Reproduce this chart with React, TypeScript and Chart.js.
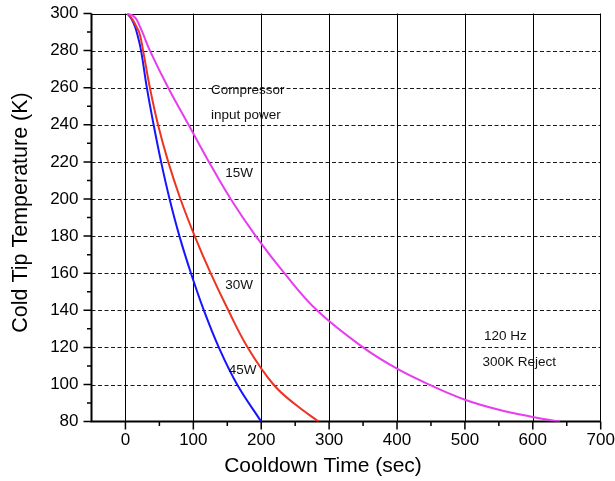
import React, { useEffect, useRef } from "react";
import { Chart, registerables } from "chart.js";

Chart.register(...registerables);

// ---- data ----
const TIME_45W = [3, 9, 14, 18, 23, 31.5, 41.5, 52.5, 65, 79.5, 96.5, 115.5, 137.5, 164.5, 200];
const TEMP_45W = [300, 297, 293, 288, 280, 260, 240, 220, 200, 180, 160, 140, 120, 100, 80];

const TIME_30W = [3, 10, 16, 21, 26, 36, 48, 63, 81, 102, 125.5, 151.5, 180, 218, 250, 284.5];
const TEMP_30W = [300, 297, 293, 289, 280, 260, 240, 220, 200, 180, 160, 140, 120, 100, 89.3, 80];

const TIME_15W = [3, 9, 15, 20, 26, 36, 63, 93, 123, 155, 192, 234, 282, 350, 400, 450, 500, 550, 600, 640];
const TEMP_15W = [300, 299.3, 297.5, 294, 289, 280, 260, 240, 220, 200, 180, 160, 140, 120, 108.5, 99.5, 91.8, 86.4, 82.5, 80];

const X_TICKS = [0, 100, 200, 300, 400, 500, 600, 700];
const X_MINOR = [50, 150, 250, 350, 450, 550, 650];
const Y_TICKS = [80, 100, 120, 140, 160, 180, 200, 220, 240, 260, 280, 300];
const Y_MINOR = [90, 110, 130, 150, 170, 190, 210, 230, 250, 270, 290];
const X_GRID = [0, 100, 200, 300, 400, 500, 600];
const Y_GRID = [100, 120, 140, 160, 180, 200, 220, 240, 260, 280];

const X_MIN = -50;
const X_MAX = 700;
const Y_MIN = 80;
const Y_MAX = 300;

const X_TITLE = "Cooldown Time (sec)";
const Y_TITLE = "Cold Tip Temperature (K)";

const NOTE_TEXT = ["Compressor", "input power", "15W", "30W", "45W", "120 Hz", "300K Reject"];
const NOTE_X = [126, 126, 147, 147, 152, 528, 526];
const NOTE_Y = [258.8, 245.3, 214, 153.6, 107.5, 126, 112];

const FONT = "'Liberation Sans', Arial, sans-serif";

const toPts = (xs: number[], ys: number[]) => xs.map((x, i) => ({ x, y: ys[i] }));

const framePlugin = {
  id: "frame",
  beforeDatasetsDraw(chart: any) {
    const { ctx, chartArea: a, scales } = chart;
    const xs = scales.x;
    const ys = scales.y;
    ctx.save();
    // horizontal dashed grid
    ctx.strokeStyle = "#1a1a1a";
    ctx.lineWidth = 1;
    ctx.setLineDash([4, 2.5]);
    for (const v of Y_GRID) {
      const y = Math.round(ys.getPixelForValue(v)) + 0.5;
      ctx.beginPath();
      ctx.moveTo(a.left, y);
      ctx.lineTo(a.right, y);
      ctx.stroke();
    }
    ctx.setLineDash([]);
    // vertical solid grid
    ctx.strokeStyle = "#000";
    for (const v of X_GRID) {
      const x = Math.round(xs.getPixelForValue(v)) + 0.5;
      ctx.beginPath();
      ctx.moveTo(x, a.top);
      ctx.lineTo(x, a.bottom);
      ctx.stroke();
    }
    // top and right frame
    ctx.beginPath();
    ctx.moveTo(a.left, Math.round(a.top) + 0.5);
    ctx.lineTo(a.right, Math.round(a.top) + 0.5);
    ctx.moveTo(Math.round(a.right) - 0.5, a.top);
    ctx.lineTo(Math.round(a.right) - 0.5, a.bottom);
    ctx.stroke();
    // left/bottom axes
    ctx.lineWidth = 2;
    ctx.beginPath();
    ctx.moveTo(a.left, a.top);
    ctx.lineTo(a.left, a.bottom);
    ctx.lineTo(a.right, a.bottom);
    ctx.stroke();
    // ticks
    ctx.lineWidth = 1.5;
    ctx.beginPath();
    for (const v of Y_TICKS) {
      const y = ys.getPixelForValue(v);
      ctx.moveTo(a.left - 8, y);
      ctx.lineTo(a.left, y);
    }
    for (const v of Y_MINOR) {
      const y = ys.getPixelForValue(v);
      ctx.moveTo(a.left - 4.5, y);
      ctx.lineTo(a.left, y);
    }
    for (const v of X_TICKS) {
      const x = xs.getPixelForValue(v);
      ctx.moveTo(x, a.bottom);
      ctx.lineTo(x, a.bottom + 8);
    }
    for (const v of X_MINOR) {
      const x = xs.getPixelForValue(v);
      ctx.moveTo(x, a.bottom);
      ctx.lineTo(x, a.bottom + 4.5);
    }
    ctx.stroke();
    ctx.restore();
  },
  afterDatasetsDraw(chart: any) {
    const { ctx, scales } = chart;
    ctx.save();
    ctx.fillStyle = "#111";
    ctx.font = `13.5px ${FONT}`;
    ctx.textAlign = "left";
    ctx.textBaseline = "middle";
    NOTE_TEXT.forEach((t, i) => {
      ctx.fillText(t, scales.x.getPixelForValue(NOTE_X[i]), scales.y.getPixelForValue(NOTE_Y[i]));
    });
    // axis titles
    ctx.fillStyle = "#000";
    ctx.textAlign = "center";
    ctx.font = `21px ${FONT}`;
    ctx.fillText(X_TITLE, 323, 466);
    ctx.translate(21, 212.5);
    ctx.rotate(-Math.PI / 2);
    ctx.font = `21.5px ${FONT}`;
    ctx.fillText(Y_TITLE, 0, 0);
    ctx.restore();
  },
};

export default function App() {
  const ref = useRef<HTMLCanvasElement | null>(null);
  useEffect(() => {
    if (!ref.current) return;
    Chart.defaults.font.family = FONT;
    Chart.defaults.color = "#000";
    const chart = new Chart(ref.current, {
      type: "line",
      data: {
        datasets: [
          { label: "15W", data: toPts(TIME_15W, TEMP_15W), borderColor: "#e83cf0" },
          { label: "30W", data: toPts(TIME_30W, TEMP_30W), borderColor: "#ee3322" },
          { label: "45W", data: toPts(TIME_45W, TEMP_45W), borderColor: "#1515ff" },
        ].map((d) => ({
          ...d,
          borderWidth: 2,
          pointRadius: 0,
          fill: false,
          tension: 0.4,
        })),
      },
      options: {
        animation: false,
        responsive: true,
        maintainAspectRatio: false,
        layout: { padding: { top: 13.5, right: 14.3, left: 0, bottom: 0 } },
        plugins: { legend: { display: false }, tooltip: { enabled: false } },
        scales: {
          x: {
            type: "linear",
            min: X_MIN,
            max: X_MAX,
            afterBuildTicks: (s: any) => {
              s.ticks = X_TICKS.map((v) => ({ value: v }));
            },
            afterFit: (s: any) => {
              s.height = 59.4;
              s.paddingLeft = 0;
              s.paddingRight = 0;
            },
            grid: { display: false, drawTicks: false },
            border: { display: false },
            ticks: { font: { size: 17 }, padding: 9, maxRotation: 0, autoSkip: false },
            title: { display: false },
          },
          y: {
            type: "linear",
            min: Y_MIN,
            max: Y_MAX,
            afterBuildTicks: (s: any) => {
              s.ticks = Y_TICKS.map((v) => ({ value: v }));
            },
            afterFit: (s: any) => {
              s.width = 91.5;
              s.paddingTop = 0;
              s.paddingBottom = 0;
            },
            grid: { display: false, drawTicks: false },
            border: { display: false },
            ticks: { font: { size: 17 }, padding: 13, autoSkip: false },
            title: { display: false },
          },
        },
      },
      plugins: [framePlugin],
    });
    return () => chart.destroy();
  }, []);
  return (
    <div style={{ position: "fixed", left: 0, top: 0, width: 615, height: 481, background: "#fff" }}>
      <canvas ref={ref} />
    </div>
  );
}
